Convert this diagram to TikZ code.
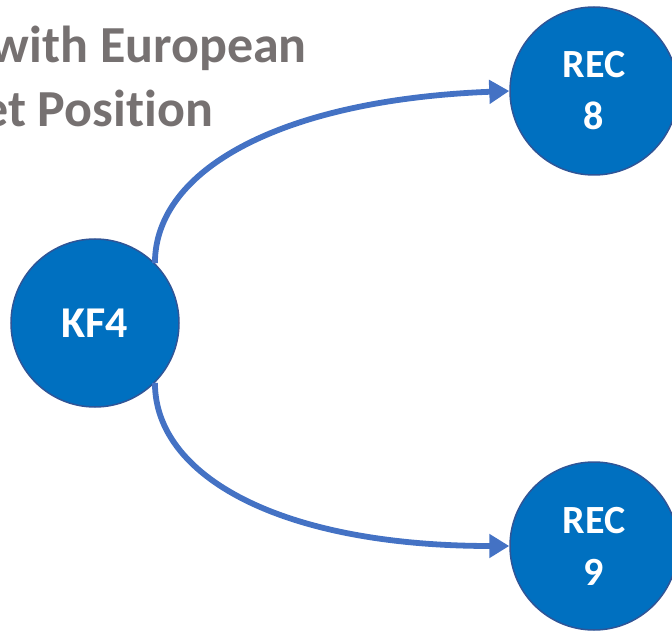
\documentclass[tikz,border=0pt]{standalone}
\usepackage{fontspec}
\setmainfont{Carlito}[Ligatures={NoCommon}]
\usetikzlibrary{positioning}
\usetikzlibrary{arrows.meta}
\definecolor{nodeblue}{RGB}{0,112,192}
\definecolor{nodeedge}{RGB}{47,85,151}
\definecolor{edgeblue}{RGB}{68,114,196}
\definecolor{titlegray}{RGB}{118,113,113}
\tikzset{
    mynode/.style = {circle, draw=nodeedge, line width=1.5pt, fill=nodeblue, minimum size=168pt, inner sep=0, align=center, text=white, font=\bfseries\fontsize{40}{52}\selectfont},
    mynodek/.style = {mynode, font=\bfseries\fontsize{44}{52}\selectfont},
    edgeb/.style = {-{Triangle[length=20pt,width=23pt]}, line width=5.8pt, edgeblue},
    titletext/.style = {anchor=base east, inner sep=0, text=titlegray, font=\bfseries\fontsize{52}{64}\selectfont}
}
\begin{document}
\begin{tikzpicture}[x=1pt,y=-1pt]
\useasboundingbox (0,0) rectangle (672,631);
\clip (0,0) rectangle (672,631);
\node[titletext] at (307,63) (t1) {with European};
\node[titletext] at (213,127) (t2) {et Position};
\node[mynodek] at (95,323) (kf) {KF4};
\node[mynode] at (594,91) (r8) {REC\\8};
\node[mynode] at (594,546) (r9) {REC\\9};
%
\draw[edgeb] (kf.45) .. controls (155,170) and (280,100) .. (r8.west);
\draw[edgeb] (kf.-45) .. controls (155,476) and (280,546) .. (r9.west);

\end{tikzpicture}
\end{document}
